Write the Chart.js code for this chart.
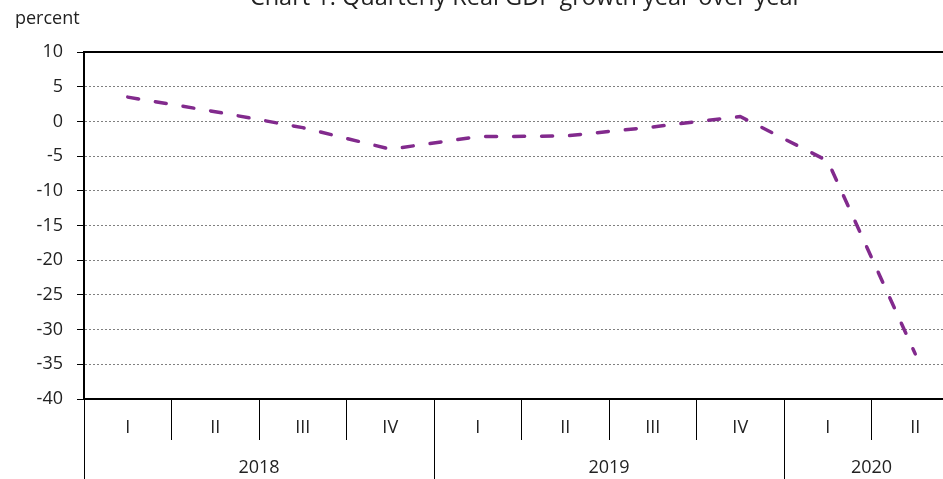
<!DOCTYPE html>
<html>
<head>
<meta charset="utf-8">
<script src="https://cdn.jsdelivr.net/npm/chart.js@4/dist/chart.umd.min.js"></script>
<style>
  html, body { margin: 0; padding: 0; background: #fff; overflow: hidden; }
  #wrap { position: absolute; left: 0; top: 0; width: 1000px; height: 479px; }
</style>
</head>
<body>
<div id="wrap"><canvas id="c"></canvas></div>
<script>
// ---- data ----
const chartTitle = 'Chart 1: Quarterly Real GDP growth year-over-year';
const unitLabel = 'percent';
const quarters = ['I', 'II', 'III', 'IV', 'I', 'II', 'III', 'IV', 'I', 'II'];
const years = ['2018', '2019', '2020'];
const yearQuarterCounts = [4, 4, 2];
const gdpGrowth = [3.5, 1.4, -0.9, -4.0, -2.2, -2.1, -0.8, 0.7, -5.7, -33.5];
const yMin = -40;
const yMax = 10;
const yStep = 5;

// year axis helpers built from the data
const yearBoundaries = [0];
const yearCentres = {};
years.forEach((yr, i) => {
  const start = yearBoundaries[yearBoundaries.length - 1];
  const end = start + yearQuarterCounts[i];
  yearCentres[(start + end) / 2] = yr;
  yearBoundaries.push(end);
});
const yearTickValues = Array.from(new Set([...yearBoundaries, ...Object.keys(yearCentres).map(Number)])).sort((a, b) => a - b);

const FONT = '"Open Sans", Lato, sans-serif';

const decor = {
  id: 'decor',
  afterDraw(chart) {
    const { ctx, chartArea } = chart;
    ctx.save();
    // top frame line
    ctx.strokeStyle = '#000';
    ctx.lineWidth = 2;
    ctx.beginPath();
    ctx.moveTo(chartArea.left, chartArea.top);
    ctx.lineTo(chartArea.right, chartArea.top);
    ctx.stroke();
    // unit label
    ctx.fillStyle = '#222';
    ctx.font = '18px ' + FONT;
    ctx.textAlign = 'left';
    ctx.textBaseline = 'alphabetic';
    ctx.fillText(unitLabel, 15, 24);
    // title (cropped at top in the reference)
    ctx.font = '23.5px ' + FONT;
    ctx.textAlign = 'center';
    ctx.fillText(chartTitle, 526, 5);
    ctx.restore();
  }
};

new Chart(document.getElementById('c'), {
  type: 'line',
  data: {
    labels: quarters,
    datasets: [{
      label: 'Real GDP growth',
      data: gdpGrowth,
      borderColor: '#822a8d',
      borderWidth: 3.5,
      borderDash: [11, 17],
      borderCapStyle: 'round',
      borderJoinStyle: 'round',
      tension: 0,
      pointRadius: 0,
      fill: false
    }]
  },
  options: {
    responsive: true,
    maintainAspectRatio: false,
    animation: false,
    layout: { padding: { top: 52, right: 41, left: 0, bottom: 0 } },
    plugins: {
      legend: { display: false },
      title: { display: false },
      tooltip: { enabled: false }
    },
    scales: {
      y: {
        min: yMin,
        max: yMax,
        ticks: {
          stepSize: yStep,
          color: '#222',
          font: { size: 18, family: FONT },
          padding: 14
        },
        grid: {
          color: (c) => (c.tick && (c.tick.value === yMax || c.tick.value === yMin)) ? 'rgba(0,0,0,0)' : '#808080',
          lineWidth: 1,
          tickColor: '#000',
          tickLength: 7,
          tickWidth: 1
        },
        border: { display: true, color: '#000', width: 2, dash: [2, 2] },
        afterFit: (s) => { s.width = 84; }
      },
      x: {
        position: 'bottom',
        offset: true,
        ticks: {
          color: '#222',
          font: { size: 18, family: FONT },
          padding: -23,
          maxRotation: 0,
          autoSkip: false
        },
        grid: {
          offset: true,
          drawOnChartArea: false,
          drawTicks: true,
          tickLength: 41,
          color: '#000',
          tickColor: '#000',
          lineWidth: 1
        },
        border: { display: true, color: '#000', width: 2 },
        afterFit: (s) => { s.height = 41; }
      },
      years: {
        type: 'linear',
        position: 'bottom',
        min: 0,
        max: yearBoundaries[yearBoundaries.length - 1],
        afterBuildTicks: (s) => { s.ticks = yearTickValues.map(v => ({ value: v })); },
        ticks: {
          color: '#222',
          font: { size: 18, family: FONT },
          padding: -22,
          maxRotation: 0,
          autoSkip: false,
          callback: (v) => yearCentres[v] || ''
        },
        grid: {
          drawOnChartArea: false,
          drawTicks: true,
          tickLength: 39,
          color: (c) => (c.tick && yearBoundaries.includes(c.tick.value)) ? '#000' : 'rgba(0,0,0,0)',
          tickColor: (c) => (c.tick && yearBoundaries.includes(c.tick.value)) ? '#000' : 'rgba(0,0,0,0)',
          lineWidth: 1
        },
        border: { display: false },
        afterFit: (s) => { s.height = 39; }
      }
    }
  },
  plugins: [decor]
});
</script>
</body>
</html>
